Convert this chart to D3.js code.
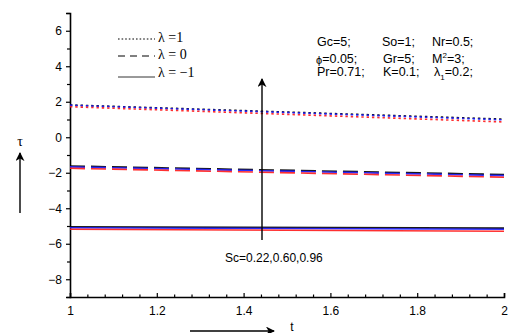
<!DOCTYPE html>
<html><head><meta charset="utf-8">
<script src="https://cdn.jsdelivr.net/npm/d3@7"></script>
<style>body{margin:0;background:#fff}svg{display:block}</style>
</head><body>
<svg id="c" width="509" height="333"></svg>
<script>
const tDomain = [1, 2];
const xTicks = [1, 1.2, 1.4, 1.6, 1.8, 2];
const yTicks = [-8, -6, -4, -2, 0, 2, 4, 6];
const scValues = ["0.22", "0.60", "0.96"];
const scColors = ["#000000", "#1a1aff", "#ff1a1a"];
const lambdas = [1, 0, -1];
const tPoints = [1, 2];
// tau values at t=1 and t=2 for each lambda (rows) and Sc (columns)
const tauLambda1 = [[1.82, 1.02], [1.80, 0.98], [1.72, 0.86]];
const tauLambda0 = [[-1.62, -2.10], [-1.67, -2.16], [-1.75, -2.25]];
const tauLambdaM1 = [[-5.05, -5.12], [-5.10, -5.18], [-5.18, -5.30]];
const legendLabels = ["λ =1", "λ = 0", "λ = −1"];

const svg = d3.select("#c");
const m = {l: 70, r: 5, t: 13, b: 36};
const x = d3.scaleLinear().domain(tDomain).range([m.l, 504]);
const y = d3.scaleLinear().domain([-9, 7]).range([297, 13]);

// axes
svg.append("g").attr("transform", `translate(${m.l},0)`)
  .call(d3.axisLeft(y).tickValues(yTicks).tickSize(4).tickPadding(4).tickFormat(d3.format("d")));
const yMinor = d3.range(-9, 8, 1).filter(v => v % 2 !== 0);
svg.append("g").attr("transform", `translate(${m.l},0)`)
  .call(d3.axisLeft(y).tickValues(yMinor).tickSize(3).tickFormat(""))
  .call(g => g.select(".domain").remove());
svg.append("g").attr("transform", `translate(0,297)`)
  .call(d3.axisBottom(x).tickValues(xTicks).tickSize(-4).tickPadding(9).tickFormat(d => d3.format("")(d)));
const xMinor = d3.range(1, 2.0001, 0.04).map(v => +v.toFixed(2)).filter(v => !xTicks.some(t => Math.abs(t - v) < 1e-6));
svg.append("g").attr("transform", `translate(0,297)`)
  .call(d3.axisBottom(x).tickValues(xMinor).tickSize(-2.5).tickFormat(""))
  .call(g => g.select(".domain").remove());
svg.selectAll(".domain").attr("stroke", "#000").attr("stroke-width", 1.6);
svg.selectAll(".tick line").attr("stroke", "#000").attr("stroke-width", 1.2);
svg.selectAll(".tick text").attr("font-family", "Liberation Sans, Arial, sans-serif").attr("font-size", 12).attr("fill", "#000");

// series
const groups = [
  {vals: tauLambda1, dash: "2.4,2.9"},
  {vals: tauLambda0, dash: "15,6"},
  {vals: tauLambdaM1, dash: null}
];
const line = d3.line().x((d,i) => x(tPoints[i])).y(d => y(d));
const plot = svg.append("g");
groups.forEach(g => {
  g.vals.forEach((v, k) => {
    const p = plot.append("path").datum(v).attr("d", line)
      .attr("fill", "none").attr("stroke", scColors[k]).attr("stroke-width", 1.6)
      .attr("opacity", 0.9);
    if (g.dash) p.attr("stroke-dasharray", g.dash);
  });
});

// legend
const lg = svg.append("g");
const legY = [39, 56, 74];
const legDash = ["1.6,2", "7,5", null];
legY.forEach((yy, i) => {
  const l = lg.append("line").attr("x1", 118).attr("x2", 155).attr("y1", i === 2 ? yy + 3 : yy).attr("y2", i === 2 ? yy + 3 : yy)
    .attr("stroke", "#000").attr("stroke-width", i === 2 ? 0.8 : 1);
  if (legDash[i]) l.attr("stroke-dasharray", legDash[i]);
  lg.append("text").attr("x", 158).attr("y", yy + 3).text(legendLabels[i])
    .attr("font-family", "Liberation Serif, Times New Roman, serif").attr("font-size", 14).attr("fill", "#000");
});

// parameter text
const pf = "Liberation Sans, Arial, sans-serif";
const params = [
  [317, 46, "Gc=5;"], [382, 46, "So=1;"], [432, 46, "Nr=0.5;"],
  [383, 63, "Gr=5;"],
  [317, 76, "Pr=0.71;"], [383, 76, "K=0.1;"]
];
const pt = svg.append("g").attr("font-family", pf).attr("font-size", 12.5).attr("fill", "#000");
params.forEach(p => pt.append("text").attr("x", p[0]).attr("y", p[1]).text(p[2]));
const phi = pt.append("text").attr("x", 316).attr("y", 63);
phi.append("tspan").text("ϕ").attr("font-size", 11).attr("dy", 1);
phi.append("tspan").text("=0.05;").attr("dy", -1);
const msq = pt.append("text").attr("x", 432).attr("y", 63);
msq.append("tspan").text("M");
msq.append("tspan").text("2").attr("font-size", 8).attr("dy", -5);
msq.append("tspan").text("=3;").attr("dy", 5);
const lam1 = pt.append("text").attr("x", 434).attr("y", 76);
lam1.append("tspan").text("λ");
lam1.append("tspan").text("1").attr("font-size", 8).attr("dy", 4);
lam1.append("tspan").text("=0.2;").attr("dy", -4);

// Sc arrow
svg.append("defs").append("marker").attr("id", "ah").attr("viewBox", "0 0 10 10")
  .attr("refX", 9).attr("refY", 5).attr("markerWidth", 9).attr("markerHeight", 9)
  .attr("markerUnits", "userSpaceOnUse").attr("orient", "auto")
  .append("path").attr("d", "M0,0 L10,5 L0,10 L3,5 Z").attr("fill", "#000");
svg.append("line").attr("x1", 262).attr("x2", 262).attr("y1", 240).attr("y2", 79)
  .attr("stroke", "#000").attr("stroke-width", 1.4).attr("marker-end", "url(#ah)");
svg.append("text").attr("x", 225).attr("y", 262).text("Sc=" + scValues.join(","))
  .attr("font-family", pf).attr("font-size", 12).attr("fill", "#000");

// axis name labels with arrows
svg.append("text").attr("x", 20).attr("y", 146).attr("text-anchor", "middle").text("τ")
  .attr("font-family", "Liberation Serif, Times New Roman, serif").attr("font-size", 14).attr("fill", "#000");
svg.append("line").attr("x1", 20).attr("x2", 20).attr("y1", 213).attr("y2", 153)
  .attr("stroke", "#000").attr("stroke-width", 1.4).attr("marker-end", "url(#ah)");
svg.append("text").attr("x", 292).attr("y", 331).attr("text-anchor", "middle").text("t")
  .attr("font-family", pf).attr("font-size", 12).attr("fill", "#000");
svg.append("line").attr("x1", 190).attr("x2", 274).attr("y1", 331).attr("y2", 331)
  .attr("stroke", "#000").attr("stroke-width", 1.4).attr("marker-end", "url(#ah)");
</script>
</body></html>
